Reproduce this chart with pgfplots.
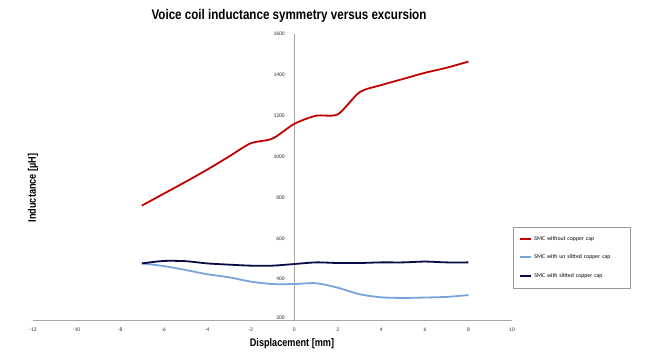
\documentclass[border=0pt]{standalone}
\usepackage{fontspec}
\setmainfont{Carlito}
\newfontfamily\narrow[FakeStretch=0.83]{Liberation Sans}
\usepackage{pgfplots}
\pgfplotsset{compat=1.18}
\definecolor{cred}{RGB}{192,0,0}
\definecolor{cblue}{RGB}{120,164,218}
\definecolor{cnavy}{RGB}{10,10,70}
\begin{document}
\begin{tikzpicture}
\useasboundingbox (-33pt,-32pt) rectangle (617pt,320pt);
\begin{axis}[
  at={(0pt,0pt)}, anchor=south west,
  scale only axis, width=479pt, height=286pt,
  xmin=-12, xmax=10, ymin=200, ymax=1600,
  axis x line=bottom, axis y line=middle,
  axis line style={-, draw=gray!70, line width=0.6pt},
  xtick={-12,-10,...,10}, ytick={200,400,...,1600},
  major tick length=0pt,
  tick label style={font=\fontsize{5.5}{6}\selectfont, text=black!80},
  /pgf/number format/assume math mode=true,
  /pgf/number format/1000 sep={},
  xticklabel style={yshift=-4pt},
  yticklabel style={xshift=-6pt},
  every axis plot/.append style={smooth, tension=0.45, line width=1.8pt, no markers},
  legend style={at={(rel axis cs:1.002,0.325)}, anchor=north west,
    draw=gray!80, line width=0.5pt, font=\fontsize{5.8}{6.5}\selectfont,
    row sep=9pt, inner xsep=6pt, inner ysep=7pt, text width=88pt,
    legend cell align=left},
  legend image code/.code={\draw[#1, sharp plot, line width=2.2pt] (0pt,0.25pt) -- (11pt,0.25pt);},
  clip=false,
]
\addplot[cred] coordinates {(-7,760) (-6,818) (-5,876) (-4,936) (-3,1000) (-2,1065) (-1,1088) (0,1160) (1,1200) (2,1207) (3,1315) (4,1350) (5,1380) (6,1410) (7,1435) (8,1465)};
\addlegendentry{SMC without copper cap}
\addplot[cblue] coordinates {(-7,477) (-6,464) (-5,445) (-4,424) (-3,409) (-2,388) (-1,376) (0,376) (1,380) (2,358) (3,326) (4,311) (5,308) (6,310) (7,313) (8,322)};
\addlegendentry{SMC with un slitted copper cap}
\addplot[cnavy] coordinates {(-7,477) (-6,489) (-5,488) (-4,477) (-3,471) (-2,466) (-1,466) (0,474) (1,482) (2,479) (3,479) (4,482) (5,482) (6,486) (7,482) (8,482)};
\addlegendentry{SMC with slitted copper cap}
\node[font=\fontsize{5.5}{6}\selectfont, text=black!80, anchor=east] at (axis cs:0,200) [xshift=-6pt, yshift=2pt] {200};
\end{axis}
\node[font=\narrow\bfseries\fontsize{14}{16}\selectfont] at (256pt,304pt) {Voice coil inductance symmetry versus excursion};
\node[font=\narrow\bfseries\fontsize{11}{12}\selectfont] at (259pt,-24pt) {Displacement [mm]};
\node[font=\narrow\bfseries\fontsize{11}{12}\selectfont, rotate=90] at (0pt,132pt) {Inductance [µH]};
\end{tikzpicture}
\end{document}
